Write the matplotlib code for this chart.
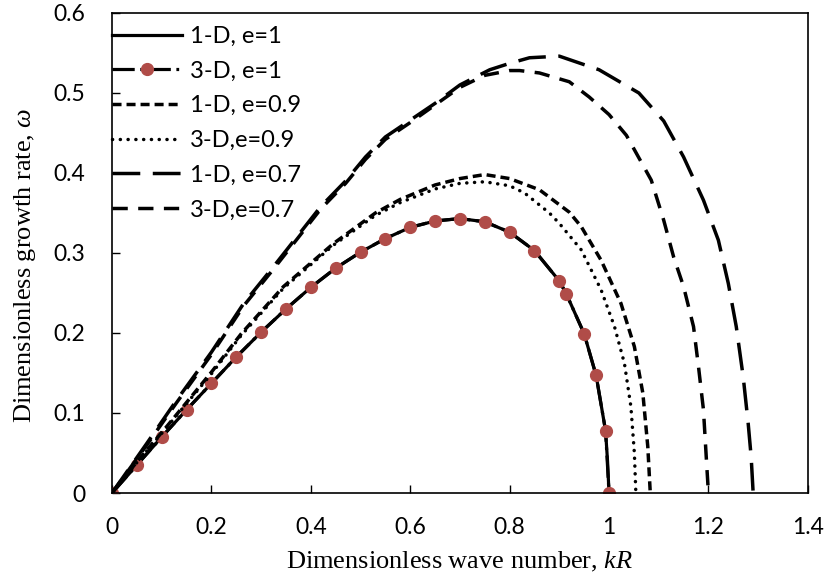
import matplotlib
matplotlib.use('Agg')
import matplotlib.pyplot as plt

plt.rcParams['font.family'] = ['Lato', 'DejaVu Sans']
plt.rcParams['mathtext.fontset'] = 'custom'
plt.rcParams['mathtext.rm'] = 'Liberation Serif'
plt.rcParams['mathtext.it'] = 'Liberation Serif:italic'
plt.rcParams['lines.scale_dashes'] = False

# 1-D, e=1
x_1d_e1 = [0, 0.05, 0.1, 0.15, 0.2, 0.25, 0.3, 0.35, 0.4, 0.45, 0.5, 0.55, 0.6, 0.65,
           0.7, 0.75, 0.8, 0.85, 0.9, 0.914, 0.95, 0.974, 0.993, 0.997, 1.0]
y_1d_e1 = [0, 0.035, 0.07, 0.104, 0.137, 0.17, 0.201, 0.23, 0.257, 0.281, 0.301, 0.318, 0.332, 0.34,
           0.343, 0.339, 0.326, 0.303, 0.265, 0.249, 0.199, 0.147, 0.078, 0.04, 0.0]

# 3-D, e=1 (markers)
x_3d_e1 = [0, 0.05, 0.1, 0.15, 0.2, 0.25, 0.3, 0.35, 0.4, 0.45, 0.5, 0.55, 0.6, 0.65,
           0.7, 0.75, 0.8, 0.85, 0.9, 0.914, 0.95, 0.974, 0.993, 1.0]
y_3d_e1 = [0, 0.035, 0.07, 0.104, 0.137, 0.17, 0.201, 0.23, 0.257, 0.281, 0.301, 0.318, 0.332, 0.34,
           0.343, 0.339, 0.326, 0.303, 0.265, 0.249, 0.199, 0.147, 0.078, 0.0]

# 1-D, e=0.9
x_1d_e09 = [0, 0.05, 0.11, 0.2, 0.26, 0.345, 0.446, 0.53, 0.58, 0.65, 0.7, 0.75, 0.8, 0.86,
            0.92, 0.944, 0.984, 1.024, 1.051, 1.068, 1.078, 1.083]
y_1d_e09 = [0, 0.039, 0.083, 0.151, 0.199, 0.258, 0.312, 0.35, 0.367, 0.385, 0.393, 0.398, 0.393, 0.379,
            0.351, 0.333, 0.291, 0.237, 0.183, 0.125, 0.058, 0.0]

# 3-D, e=0.9
x_3d_e09 = [0, 0.05, 0.11, 0.2, 0.26, 0.345, 0.446, 0.53, 0.58, 0.65, 0.7, 0.75, 0.8, 0.83,
            0.88, 0.9, 0.944, 0.984, 1.011, 1.031, 1.044, 1.051, 1.054]
y_3d_e09 = [0, 0.038, 0.082, 0.149, 0.197, 0.256, 0.31, 0.347, 0.363, 0.38, 0.387, 0.389, 0.384, 0.375,
            0.35, 0.337, 0.304, 0.254, 0.208, 0.162, 0.108, 0.05, 0.0]

# 1-D, e=0.7
x_1d_e07 = [0, 0.07, 0.13, 0.2, 0.265, 0.325, 0.42, 0.47, 0.51, 0.55, 0.6, 0.65, 0.7, 0.76,
            0.8, 0.84, 0.9, 0.98, 1.06, 1.11, 1.15, 1.19, 1.22, 1.24, 1.256, 1.27, 1.28, 1.286, 1.29]
y_1d_e07 = [0, 0.062, 0.116, 0.176, 0.237, 0.283, 0.358, 0.39, 0.42, 0.445, 0.466, 0.487, 0.51, 0.529,
            0.537, 0.544, 0.546, 0.529, 0.5, 0.465, 0.42, 0.366, 0.316, 0.262, 0.208, 0.145, 0.087, 0.045, 0.0]

# 3-D, e=0.7
x_3d_e07 = [0, 0.07, 0.13, 0.2, 0.265, 0.325, 0.42, 0.47, 0.51, 0.55, 0.6, 0.65, 0.7, 0.75,
            0.8, 0.82, 0.86, 0.92, 0.96, 1.0, 1.035, 1.085, 1.11, 1.13, 1.15, 1.17, 1.18, 1.19, 1.196, 1.2]
y_3d_e07 = [0, 0.06, 0.113, 0.173, 0.234, 0.28, 0.355, 0.387, 0.417, 0.442, 0.463, 0.485, 0.507, 0.522,
            0.528, 0.528, 0.525, 0.514, 0.495, 0.473, 0.447, 0.391, 0.341, 0.295, 0.258, 0.208, 0.158, 0.104, 0.041, 0.0]

fig = plt.figure(figsize=(8.26, 5.86), dpi=100)
ax = fig.add_axes([0.1356, 0.1587, 0.8424, 0.8192])

ax.plot(x_1d_e1, y_1d_e1, color='black', linewidth=2.3, label='1-D, e=1')
ax.plot(x_3d_e1, y_3d_e1, color='black', linewidth=2.3, linestyle=(0, (16, 4, 2, 4)),
        marker='o', markersize=8.5, markerfacecolor='#B04C48', markeredgecolor='#B04C48',
        label='3-D, e=1')
ax.plot(x_1d_e09, y_1d_e09, color='black', linewidth=2.5, linestyle=(0, (6.5, 3.6)), label='1-D, e=0.9')
ax.plot(x_3d_e09, y_3d_e09, color='black', linewidth=2.5, linestyle=(0, (0.1, 5.5)),
        dash_capstyle='round', label='3-D,e=0.9')
ax.plot(x_1d_e07, y_1d_e07, color='black', linewidth=2.5, linestyle=(0, (20, 9)), label='1-D, e=0.7')
ax.plot(x_3d_e07, y_3d_e07, color='black', linewidth=2.5, linestyle=(0, (11, 7.5)), label='3-D,e=0.7')

ax.set_xlim(0, 1.4)
ax.set_ylim(0, 0.6)
ax.set_xticks([0, 0.2, 0.4, 0.6, 0.8, 1, 1.2, 1.4])
ax.set_xticklabels(['0', '0.2', '0.4', '0.6', '0.8', '1', '1.2', '1.4'])
ax.set_yticks([0, 0.1, 0.2, 0.3, 0.4, 0.5, 0.6])
ax.set_yticklabels(['0', '0.1', '0.2', '0.3', '0.4', '0.5', '0.6'])
ax.tick_params(axis='both', direction='in', length=6, width=1, labelsize=16.5)
ax.tick_params(axis='x', pad=17)
ax.tick_params(axis='y', pad=19)
for s in ax.spines.values():
    s.set_linewidth(1.2)

ax.set_xlabel(r'Dimensionless wave number, $\mathit{kR}$', fontsize=19, family='Liberation Serif', labelpad=9)
ax.set_ylabel(r'Dimensionless growth rate, $\mathit{\omega}$', fontsize=19, family='Liberation Serif',
              labelpad=11, y=0.475)

ax.legend(loc='upper left', bbox_to_anchor=(0, 0.973), frameon=False, fontsize=17,
          handlelength=2.95, handletextpad=0.34, labelspacing=0.58, borderaxespad=0, borderpad=0)

plt.savefig('out.png', dpi=100)
